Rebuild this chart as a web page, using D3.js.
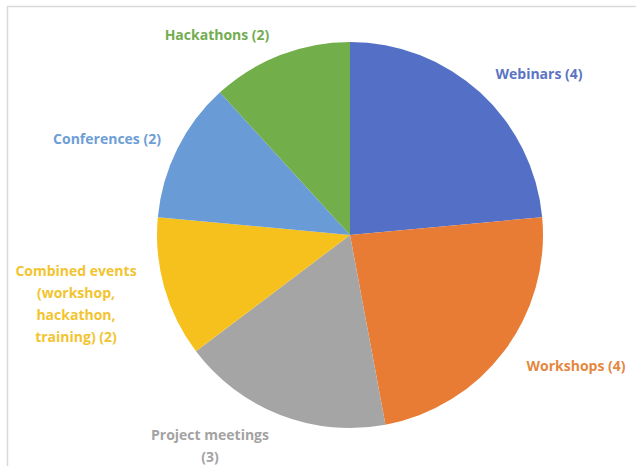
<!DOCTYPE html>
<html><head><meta charset="utf-8">
<script src="https://cdn.jsdelivr.net/npm/d3@7"></script>
<style>body{margin:0;background:#fff;}svg{display:block;}</style>
</head><body>
<svg id="chart" width="636" height="466"></svg>
<script>
const categories = ["Webinars", "Workshops", "Project meetings", "Combined events (workshop, hackathon, training)", "Conferences", "Hackathons"];
const values = [4, 4, 3, 2, 2, 2];
const colors = ["#5470C6", "#E97C35", "#A5A5A5", "#F7C11D", "#699BD6", "#72AE4A"];
const labelColors = ["#5B74C4", "#E4873F", "#A3A3A3", "#F2C430", "#6E9ED6", "#74AC52"];
const labelLines = [
  ["Webinars (4)"],
  ["Workshops (4)"],
  ["Project meetings", "(3)"],
  ["Combined events", "(workshop,", "hackathon,", "training) (2)"],
  ["Conferences (2)"],
  ["Hackathons (2)"]
];
const labelPos = [[539, 75], [576, 367], [210, 436], [76, 272], [107, 140], [217, 36]];

const svg = d3.select("#chart");
svg.append("path").attr("d", "M7.5,466 L7.5,6.5 L636,6.5").attr("fill", "none").attr("stroke", "#d9d9d9").attr("stroke-width", 1.5);

const cx = 350, cy = 235, r = 193;
const pie = d3.pie().sort(null).value(d => d)(values);
const arc = d3.arc().innerRadius(0).outerRadius(r);
const g = svg.append("g").attr("transform", `translate(${cx},${cy})`);
g.selectAll("path").data(pie).join("path").attr("d", arc).attr("fill", (d, i) => colors[i]);

const lg = svg.append("g").attr("font-family", "'Open Sans', Lato, sans-serif").attr("font-weight", "bold").attr("font-size", 14).attr("text-anchor", "middle");
labelLines.forEach((lines, i) => {
  const t = lg.append("text").attr("fill", labelColors[i]).attr("dominant-baseline", "middle");
  lines.forEach((ln, j) => {
    t.append("tspan").attr("x", labelPos[i][0]).attr("y", labelPos[i][1] + j * 22).text(ln);
  });
});
</script>
</body></html>
